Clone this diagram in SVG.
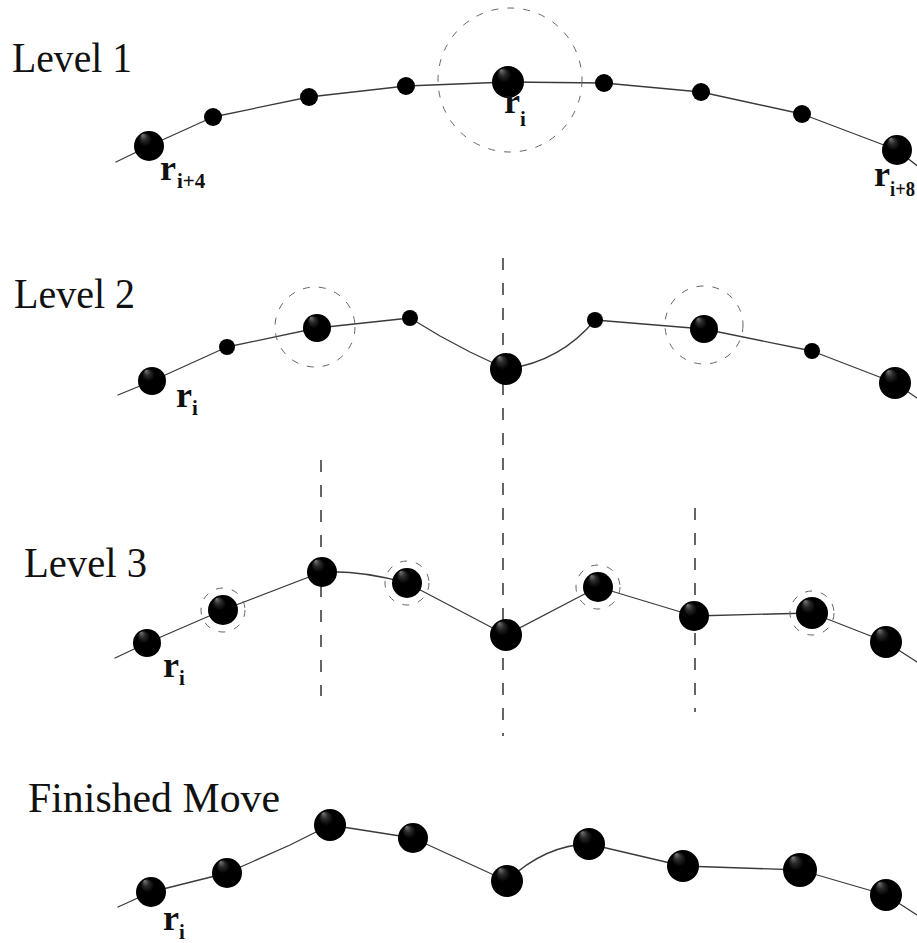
<svg xmlns="http://www.w3.org/2000/svg" width="917" height="943" viewBox="0 0 917 943">
<defs>
<radialGradient id="ball" cx="0.5" cy="0.5" r="0.5" fx="0.28" fy="0.12">
<stop offset="0" stop-color="#7a7a7a"/>
<stop offset="0.22" stop-color="#2a2a2a"/>
<stop offset="0.45" stop-color="#000"/>
<stop offset="1" stop-color="#000"/>
</radialGradient>
<style>
.title{font-family:"Liberation Serif",serif;font-size:42px;fill:#111}
.r{font-family:"Liberation Serif",serif;font-size:36px;font-weight:bold;fill:#111}
.sub{font-family:"Liberation Serif",serif;font-size:21px;font-weight:bold;fill:#111}
.curve{fill:none;stroke:#3a3a3a;stroke-width:1.3;stroke-linejoin:round;stroke-linecap:round}
.vdash{fill:none;stroke:#333;stroke-width:1.5;stroke-dasharray:12 13}
.ring{fill:none;stroke:#666;stroke-width:1;stroke-dasharray:7 9}
.big{fill:url(#ball)}
.small{fill:#000}
</style>
</defs>
<rect width="917" height="943" fill="#fff"/>

<g id="titles">
<text class="title" x="12" y="72" textLength="120" lengthAdjust="spacingAndGlyphs">Level 1</text>
<text class="title" x="14" y="308" textLength="121" lengthAdjust="spacingAndGlyphs">Level 2</text>
<text class="title" x="24" y="577" textLength="123" lengthAdjust="spacingAndGlyphs">Level 3</text>
<text class="title" x="28" y="812" textLength="252" lengthAdjust="spacingAndGlyphs">Finished Move</text>
</g>

<g id="connectors">
<polyline class="curve" points="116,162 149,146 213,117 309,97 406,86 508,82 604,83 701,92 802,114 897,150 920,168"/>
<path class="curve" d="M118,395 L152,381 L227,347 L317,328 L410,318 L440,336 L470,352 L506,369 Q560,362 595,320 L704,329 L812,351 L895,383 L917,398"/>
<path class="curve" d="M115,658 L147,643 L223,610 L322,572 Q360,570 407,583 L506,635 L598,587 L694,616 L812,613 L886,642 L917,662"/>
<path class="curve" d="M118,907 L151,892 L227,873 L290,845 L330,825 L413,838 L507,881 Q545,845 589,844 L683,866 L800,870 L886,895 L917,915"/>
<line class="vdash" x1="503" y1="258" x2="503" y2="736"/>
<line class="vdash" x1="321" y1="460" x2="321" y2="696"/>
<line class="vdash" x1="695" y1="508" x2="695" y2="712"/>
<circle class="ring" cx="510" cy="80" r="72"/>
<circle class="ring" cx="315" cy="327" r="40"/>
<circle class="ring" cx="704" cy="325" r="39"/>
<circle class="ring" cx="223" cy="610" r="22"/>
<circle class="ring" cx="407" cy="583" r="22"/>
<circle class="ring" cx="598" cy="587" r="22"/>
<circle class="ring" cx="812" cy="613" r="22"/>
</g>

<g id="level1">
<g id="l1-n0"><circle class="big" cx="149" cy="146" r="15"/><text class="r" x="160" y="180">r</text><text class="sub" x="177" y="188">i+4</text></g>
<g id="l1-n1"><circle class="small" cx="213" cy="117" r="9"/></g>
<g id="l1-n2"><circle class="small" cx="309" cy="97" r="9"/></g>
<g id="l1-n3"><circle class="small" cx="406" cy="86" r="9"/></g>
<g id="l1-n4"><circle class="big" cx="508" cy="82" r="16"/><text class="r" x="504" y="113">r</text><text class="sub" x="520" y="126">i</text></g>
<g id="l1-n5"><circle class="small" cx="604" cy="83" r="9"/></g>
<g id="l1-n6"><circle class="small" cx="701" cy="92" r="9"/></g>
<g id="l1-n7"><circle class="small" cx="802" cy="114" r="9"/></g>
<g id="l1-n8"><circle class="big" cx="897" cy="150" r="15"/><text class="r" x="874" y="186">r</text><text class="sub" x="890" y="196" textLength="25" lengthAdjust="spacingAndGlyphs">i+8</text></g>
</g>

<g id="level2">
<g id="l2-n0"><circle class="big" cx="152" cy="381" r="14"/><text class="r" x="176" y="407">r</text><text class="sub" x="192" y="415">i</text></g>
<g id="l2-n1"><circle class="small" cx="227" cy="347" r="8"/></g>
<g id="l2-n2"><circle class="big" cx="317" cy="328" r="14"/></g>
<g id="l2-n3"><circle class="small" cx="410" cy="318" r="8"/></g>
<g id="l2-n4"><circle class="big" cx="506" cy="369" r="16"/></g>
<g id="l2-n5"><circle class="small" cx="595" cy="320" r="8"/></g>
<g id="l2-n6"><circle class="big" cx="704" cy="329" r="14"/></g>
<g id="l2-n7"><circle class="small" cx="812" cy="351" r="8"/></g>
<g id="l2-n8"><circle class="big" cx="895" cy="383" r="16"/></g>
</g>

<g id="level3">
<g id="l3-n0"><circle class="big" cx="147" cy="643" r="14"/><text class="r" x="163" y="677">r</text><text class="sub" x="179" y="685">i</text></g>
<g id="l3-n1"><circle class="big" cx="223" cy="610" r="15"/></g>
<g id="l3-n2"><circle class="big" cx="322" cy="572" r="15"/></g>
<g id="l3-n3"><circle class="big" cx="407" cy="583" r="15"/></g>
<g id="l3-n4"><circle class="big" cx="506" cy="635" r="16"/></g>
<g id="l3-n5"><circle class="big" cx="598" cy="587" r="15"/></g>
<g id="l3-n6"><circle class="big" cx="694" cy="616" r="15"/></g>
<g id="l3-n7"><circle class="big" cx="812" cy="613" r="16"/></g>
<g id="l3-n8"><circle class="big" cx="886" cy="642" r="16"/></g>
</g>

<g id="finished">
<g id="f-n0"><circle class="big" cx="151" cy="892" r="15"/><text class="r" x="163" y="930">r</text><text class="sub" x="179" y="939">i</text></g>
<g id="f-n1"><circle class="big" cx="227" cy="873" r="15"/></g>
<g id="f-n2"><circle class="big" cx="330" cy="825" r="16"/></g>
<g id="f-n3"><circle class="big" cx="413" cy="838" r="15"/></g>
<g id="f-n4"><circle class="big" cx="507" cy="881" r="16"/></g>
<g id="f-n5"><circle class="big" cx="589" cy="844" r="16"/></g>
<g id="f-n6"><circle class="big" cx="683" cy="866" r="16"/></g>
<g id="f-n7"><circle class="big" cx="800" cy="870" r="17"/></g>
<g id="f-n8"><circle class="big" cx="886" cy="895" r="16"/></g>
</g>
</svg>
